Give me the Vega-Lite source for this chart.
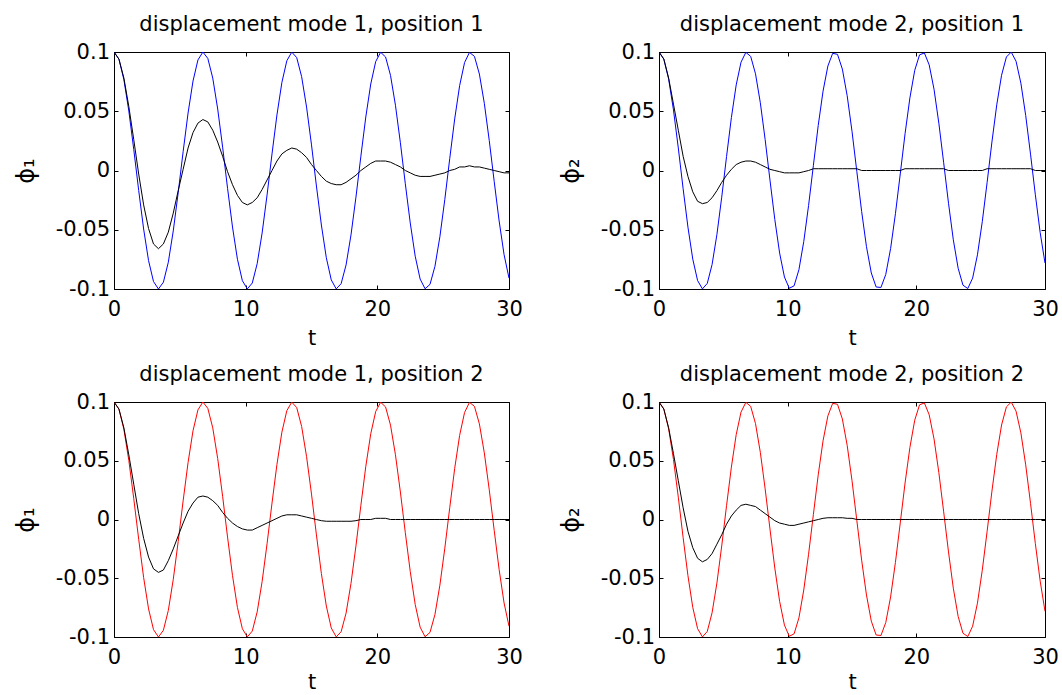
{
  "$schema": "https://vega.github.io/schema/vega-lite/v6.json",
  "padding": {"left": 13, "top": 13, "right": 0, "bottom": 0},
  "background": "white",
  "config": {
    "font": "DejaVu Sans",
    "view": {"stroke": "#000000", "strokeWidth": 1},
    "axis": {"domain": false, "grid": false, "tickSize": -4, "tickColor": "#000000", "tickWidth": 1, "labelColor": "#000000", "labelFont": "DejaVu Sans", "labelFontSize": 21, "titleFont": "DejaVu Sans", "titleFontSize": 21, "titleFontWeight": "normal", "titleColor": "#000000", "labelFlush": false, "labelOverlap": false},
    "axisX": {"labelPadding": 13, "titlePadding": 8},
    "axisY": {"labelPadding": 8.5, "titlePadding": 17, "titleFontSize": 24},
    "title": {"font": "DejaVu Sans", "fontSize": 21, "fontWeight": "normal", "color": "#000000", "offset": 6, "anchor": "middle", "frame": "group"}
  },
  "datasets": {
    "d": [
      {"t":0,"c1":0.1,"c2":0.1,"k11":0.1,"k21":0.1,"k12":0.1,"k22":0.1},
      {"t":0.375,"c1":0.094,"c2":0.0941,"k11":0.094,"k21":0.094,"k12":0.094,"k22":0.094},
      {"t":0.75,"c1":0.0767,"c2":0.0771,"k11":0.078,"k21":0.078,"k12":0.078,"k22":0.078},
      {"t":1.125,"c1":0.0503,"c2":0.0511,"k11":0.054,"k21":0.056,"k12":0.055,"k22":0.056},
      {"t":1.5,"c1":0.0178,"c2":0.019,"k11":0.026,"k21":0.034,"k12":0.03,"k22":0.033},
      {"t":1.875,"c1":-0.0168,"c2":-0.0154,"k11":-0.003,"k21":0.012,"k12":0.005,"k22":0.01},
      {"t":2.25,"c1":-0.0494,"c2":-0.0478,"k11":-0.029,"k21":-0.005,"k12":-0.016,"k22":-0.01},
      {"t":2.625,"c1":-0.0761,"c2":-0.0748,"k11":-0.049,"k21":-0.018,"k12":-0.032,"k22":-0.024},
      {"t":3,"c1":-0.0937,"c2":-0.0929,"k11":-0.062,"k21":-0.026,"k12":-0.042,"k22":-0.033},
      {"t":3.375,"c1":-0.1,"c2":-0.0999,"k11":-0.066,"k21":-0.028,"k12":-0.045,"k22":-0.036},
      {"t":3.75,"c1":-0.0943,"c2":-0.0953,"k11":-0.062,"k21":-0.027,"k12":-0.043,"k22":-0.034},
      {"t":4.125,"c1":-0.0774,"c2":-0.0794,"k11":-0.052,"k21":-0.023,"k12":-0.035,"k22":-0.029},
      {"t":4.5,"c1":-0.051,"c2":-0.0541,"k11":-0.036,"k21":-0.017,"k12":-0.025,"k22":-0.021},
      {"t":4.875,"c1":-0.0187,"c2":-0.0225,"k11":-0.017,"k21":-0.01,"k12":-0.014,"k22":-0.013},
      {"t":5.25,"c1":0.0159,"c2":0.0118,"k11":0.001,"k21":-0.004,"k12":-0.003,"k22":-0.004},
      {"t":5.625,"c1":0.0485,"c2":0.0446,"k11":0.019,"k21":0.001,"k12":0.007,"k22":0.003},
      {"t":6,"c1":0.0755,"c2":0.0722,"k11":0.032,"k21":0.005,"k12":0.014,"k22":0.008},
      {"t":6.375,"c1":0.0933,"c2":0.0914,"k11":0.04,"k21":0.007,"k12":0.019,"k22":0.012},
      {"t":6.75,"c1":0.1,"c2":0.0997,"k11":0.043,"k21":0.008,"k12":0.02,"k22":0.013},
      {"t":7.125,"c1":0.0946,"c2":0.0963,"k11":0.041,"k21":0.008,"k12":0.019,"k22":0.012},
      {"t":7.5,"c1":0.078,"c2":0.0816,"k11":0.034,"k21":0.007,"k12":0.016,"k22":0.011},
      {"t":7.875,"c1":0.0519,"c2":0.0572,"k11":0.024,"k21":0.005,"k12":0.012,"k22":0.008},
      {"t":8.25,"c1":0.0197,"c2":0.0261,"k11":0.012,"k21":0.003,"k12":0.006,"k22":0.005},
      {"t":8.625,"c1":-0.015,"c2":-0.0081,"k11":-0.001,"k21":0.001,"k12":0.001,"k22":0.002},
      {"t":9,"c1":-0.0477,"c2":-0.0413,"k11":-0.012,"k21":0,"k12":-0.003,"k22":-0.001},
      {"t":9.375,"c1":-0.0749,"c2":-0.0697,"k11":-0.021,"k21":-0.001,"k12":-0.006,"k22":-0.003},
      {"t":9.75,"c1":-0.093,"c2":-0.0899,"k11":-0.027,"k21":-0.002,"k12":-0.008,"k22":-0.004},
      {"t":10.125,"c1":-0.0999,"c2":-0.0994,"k11":-0.029,"k21":-0.002,"k12":-0.009,"k22":-0.005},
      {"t":10.5,"c1":-0.095,"c2":-0.0973,"k11":-0.027,"k21":-0.002,"k12":-0.009,"k22":-0.005},
      {"t":10.875,"c1":-0.0786,"c2":-0.0837,"k11":-0.023,"k21":-0.002,"k12":-0.007,"k22":-0.004},
      {"t":11.25,"c1":-0.0527,"c2":-0.06,"k11":-0.016,"k21":-0.001,"k12":-0.005,"k22":-0.003},
      {"t":11.625,"c1":-0.0206,"c2":-0.0296,"k11":-0.008,"k21":0,"k12":-0.003,"k22":-0.002},
      {"t":12,"c1":0.014,"c2":0.0044,"k11":0,"k21":0.0015,"k12":-0.001,"k22":-0.001},
      {"t":12.375,"c1":0.0469,"c2":0.038,"k11":0.008,"k21":0.0015,"k12":0.001,"k22":0},
      {"t":12.75,"c1":0.0743,"c2":0.067,"k11":0.014,"k21":0.0015,"k12":0.003,"k22":0.001},
      {"t":13.125,"c1":0.0926,"c2":0.0882,"k11":0.017,"k21":0.0015,"k12":0.004,"k22":0.0015},
      {"t":13.5,"c1":0.0999,"c2":0.0989,"k11":0.019,"k21":0.0015,"k12":0.004,"k22":0.0015},
      {"t":13.875,"c1":0.0953,"c2":0.098,"k11":0.018,"k21":0.0015,"k12":0.004,"k22":0.0015},
      {"t":14.25,"c1":0.0792,"c2":0.0856,"k11":0.015,"k21":0.0015,"k12":0.003,"k22":0.0015},
      {"t":14.625,"c1":0.0535,"c2":0.0631,"k11":0.011,"k21":0.0015,"k12":0.002,"k22":0.001},
      {"t":15,"c1":0.0216,"c2":0.0331,"k11":0.005,"k21":0.0015,"k12":0.001,"k22":0.001},
      {"t":15.375,"c1":-0.0131,"c2":-0.0008,"k11":0,"k21":0.0015,"k12":0,"k22":0},
      {"t":15.75,"c1":-0.046,"c2":-0.0346,"k11":-0.005,"k21":0,"k12":-0.001,"k22":0},
      {"t":16.125,"c1":-0.0736,"c2":-0.0643,"k11":-0.009,"k21":0,"k12":-0.0015,"k22":0},
      {"t":16.5,"c1":-0.0923,"c2":-0.0865,"k11":-0.011,"k21":0,"k12":-0.0015,"k22":0},
      {"t":16.875,"c1":-0.0999,"c2":-0.0983,"k11":-0.012,"k21":0,"k12":-0.0015,"k22":0},
      {"t":17.25,"c1":-0.0955,"c2":-0.0987,"k11":-0.012,"k21":0,"k12":-0.0015,"k22":0},
      {"t":17.625,"c1":-0.0797,"c2":-0.0877,"k11":-0.01,"k21":0,"k12":-0.0015,"k22":0},
      {"t":18,"c1":-0.0543,"c2":-0.0659,"k11":-0.007,"k21":0,"k12":-0.0015,"k22":0},
      {"t":18.375,"c1":-0.0225,"c2":-0.0365,"k11":-0.004,"k21":0,"k12":-0.001,"k22":0},
      {"t":18.75,"c1":0.0121,"c2":-0.0029,"k11":0,"k21":0,"k12":0,"k22":0},
      {"t":19.125,"c1":0.0452,"c2":0.0311,"k11":0.003,"k21":0.0015,"k12":0,"k22":0},
      {"t":19.5,"c1":0.073,"c2":0.0613,"k11":0.006,"k21":0.0015,"k12":0,"k22":0},
      {"t":19.875,"c1":0.0919,"c2":0.0845,"k11":0.008,"k21":0.0015,"k12":0.001,"k22":0},
      {"t":20.25,"c1":0.0998,"c2":0.0976,"k11":0.008,"k21":0.0015,"k12":0.001,"k22":0},
      {"t":20.625,"c1":0.0958,"c2":0.0992,"k11":0.008,"k21":0.0015,"k12":0.001,"k22":0},
      {"t":21,"c1":0.0803,"c2":0.0891,"k11":0.007,"k21":0.0015,"k12":0,"k22":0},
      {"t":21.375,"c1":0.0551,"c2":0.0686,"k11":0.005,"k21":0.0015,"k12":0,"k22":0},
      {"t":21.75,"c1":0.0234,"c2":0.0399,"k11":0.003,"k21":0.0015,"k12":0,"k22":0},
      {"t":22.125,"c1":-0.0112,"c2":0.0065,"k11":0,"k21":0.0015,"k12":0,"k22":0},
      {"t":22.5,"c1":-0.0443,"c2":-0.0276,"k11":-0.002,"k21":0,"k12":0,"k22":0},
      {"t":22.875,"c1":-0.0723,"c2":-0.0585,"k11":-0.004,"k21":0,"k12":0,"k22":0},
      {"t":23.25,"c1":-0.0916,"c2":-0.0825,"k11":-0.005,"k21":0,"k12":0,"k22":0},
      {"t":23.625,"c1":-0.0998,"c2":-0.0968,"k11":-0.005,"k21":0,"k12":0,"k22":0},
      {"t":24,"c1":-0.0961,"c2":-0.0996,"k11":-0.005,"k21":0,"k12":0,"k22":0},
      {"t":24.375,"c1":-0.0809,"c2":-0.0908,"k11":-0.004,"k21":0,"k12":0,"k22":0},
      {"t":24.75,"c1":-0.0559,"c2":-0.0712,"k11":-0.003,"k21":0,"k12":0,"k22":0},
      {"t":25.125,"c1":-0.0244,"c2":-0.0432,"k11":-0.002,"k21":0,"k12":0,"k22":0},
      {"t":25.5,"c1":0.0102,"c2":-0.0102,"k11":0,"k21":0.0015,"k12":0,"k22":0},
      {"t":25.875,"c1":0.0435,"c2":0.0241,"k11":0.001,"k21":0.0015,"k12":0,"k22":0},
      {"t":26.25,"c1":0.0716,"c2":0.0554,"k11":0.003,"k21":0.0015,"k12":0,"k22":0},
      {"t":26.625,"c1":0.0911,"c2":0.0804,"k11":0.003,"k21":0.0015,"k12":0,"k22":0},
      {"t":27,"c1":0.0997,"c2":0.0958,"k11":0.004,"k21":0.0015,"k12":0,"k22":0},
      {"t":27.375,"c1":0.0963,"c2":0.0999,"k11":0.003,"k21":0.0015,"k12":0,"k22":0},
      {"t":27.75,"c1":0.0814,"c2":0.0922,"k11":0.003,"k21":0.0015,"k12":0,"k22":0},
      {"t":28.125,"c1":0.0567,"c2":0.0737,"k11":0.002,"k21":0.0015,"k12":0,"k22":0},
      {"t":28.5,"c1":0.0253,"c2":0.0465,"k11":0.001,"k21":0.0015,"k12":0,"k22":0},
      {"t":28.875,"c1":-0.0092,"c2":0.0138,"k11":0,"k21":0.0015,"k12":0,"k22":0},
      {"t":29.25,"c1":-0.0426,"c2":-0.0205,"k11":-0.001,"k21":0,"k12":0,"k22":0},
      {"t":29.625,"c1":-0.071,"c2":-0.0524,"k11":-0.002,"k21":0,"k12":0,"k22":0},
      {"t":30,"c1":-0.0908,"c2":-0.0781,"k11":-0.002,"k21":0,"k12":0,"k22":0}
    ]
  },
  "columns": 2,
  "spacing": {"row": 113, "column": 150},
  "bounds": "flush",
  "concat": [
    {
      "data": {"name": "d"},
      "width": 395, "height": 237,
      "title": {"text": "displacement mode 1, position 1"},
      "layer": [
        {"mark": {"type": "line", "color": "#0000ff", "strokeWidth": 1, "clip": true},
         "encoding": {
           "x": {"field": "t", "type": "quantitative", "scale": {"domain": [0, 30], "nice": false, "zero": false}, "axis": {"orient": "bottom", "title": "t", "values": [0, 10, 20, 30]}},
           "y": {"field": "c1", "type": "quantitative", "scale": {"domain": [-0.1, 0.1], "nice": false, "zero": false}, "axis": {"orient": "left", "title": "ϕ₁", "values": [-0.1, -0.05, 0, 0.05, 0.1], "labelExpr": "datum.value < 0 ? '-' + format(-datum.value, '~g') : format(datum.value, '~g')"}}
         }},
        {"mark": {"type": "line", "color": "#000000", "strokeWidth": 1, "clip": true},
         "encoding": {
           "x": {"field": "t", "type": "quantitative", "scale": {"domain": [0, 30], "nice": false, "zero": false}, "axis": {"orient": "top", "labels": false, "title": null, "values": [0, 10, 20, 30]}},
           "y": {"field": "k11", "type": "quantitative", "scale": {"domain": [-0.1, 0.1], "nice": false, "zero": false}, "axis": {"orient": "right", "labels": false, "title": null, "values": [-0.1, -0.05, 0, 0.05, 0.1]}}
         }}
      ],
      "resolve": {"axis": {"x": "independent", "y": "independent"}}
    },
    {
      "data": {"name": "d"},
      "width": 386, "height": 237,
      "title": {"text": "displacement mode 2, position 1"},
      "layer": [
        {"mark": {"type": "line", "color": "#0000ff", "strokeWidth": 1, "clip": true},
         "encoding": {
           "x": {"field": "t", "type": "quantitative", "scale": {"domain": [0, 30], "nice": false, "zero": false}, "axis": {"orient": "bottom", "title": "t", "values": [0, 10, 20, 30]}},
           "y": {"field": "c2", "type": "quantitative", "scale": {"domain": [-0.1, 0.1], "nice": false, "zero": false}, "axis": {"orient": "left", "title": "ϕ₂", "values": [-0.1, -0.05, 0, 0.05, 0.1], "labelExpr": "datum.value < 0 ? '-' + format(-datum.value, '~g') : format(datum.value, '~g')"}}
         }},
        {"mark": {"type": "line", "color": "#000000", "strokeWidth": 1, "clip": true},
         "encoding": {
           "x": {"field": "t", "type": "quantitative", "scale": {"domain": [0, 30], "nice": false, "zero": false}, "axis": {"orient": "top", "labels": false, "title": null, "values": [0, 10, 20, 30]}},
           "y": {"field": "k21", "type": "quantitative", "scale": {"domain": [-0.1, 0.1], "nice": false, "zero": false}, "axis": {"orient": "right", "labels": false, "title": null, "values": [-0.1, -0.05, 0, 0.05, 0.1]}}
         }}
      ],
      "resolve": {"axis": {"x": "independent", "y": "independent"}}
    },
    {
      "data": {"name": "d"},
      "width": 395, "height": 235,
      "title": {"text": "displacement mode 1, position 2"},
      "layer": [
        {"mark": {"type": "line", "color": "#ff0000", "strokeWidth": 1, "clip": true},
         "encoding": {
           "x": {"field": "t", "type": "quantitative", "scale": {"domain": [0, 30], "nice": false, "zero": false}, "axis": {"orient": "bottom", "title": "t", "titlePadding": 4, "values": [0, 10, 20, 30]}},
           "y": {"field": "c1", "type": "quantitative", "scale": {"domain": [-0.1, 0.1], "nice": false, "zero": false}, "axis": {"orient": "left", "title": "ϕ₁", "values": [-0.1, -0.05, 0, 0.05, 0.1], "labelExpr": "datum.value < 0 ? '-' + format(-datum.value, '~g') : format(datum.value, '~g')"}}
         }},
        {"mark": {"type": "line", "color": "#000000", "strokeWidth": 1, "clip": true},
         "encoding": {
           "x": {"field": "t", "type": "quantitative", "scale": {"domain": [0, 30], "nice": false, "zero": false}, "axis": {"orient": "top", "labels": false, "title": null, "values": [0, 10, 20, 30]}},
           "y": {"field": "k12", "type": "quantitative", "scale": {"domain": [-0.1, 0.1], "nice": false, "zero": false}, "axis": {"orient": "right", "labels": false, "title": null, "values": [-0.1, -0.05, 0, 0.05, 0.1]}}
         }}
      ],
      "resolve": {"axis": {"x": "independent", "y": "independent"}}
    },
    {
      "data": {"name": "d"},
      "width": 386, "height": 235,
      "title": {"text": "displacement mode 2, position 2"},
      "layer": [
        {"mark": {"type": "line", "color": "#ff0000", "strokeWidth": 1, "clip": true},
         "encoding": {
           "x": {"field": "t", "type": "quantitative", "scale": {"domain": [0, 30], "nice": false, "zero": false}, "axis": {"orient": "bottom", "title": "t", "titlePadding": 4, "values": [0, 10, 20, 30]}},
           "y": {"field": "c2", "type": "quantitative", "scale": {"domain": [-0.1, 0.1], "nice": false, "zero": false}, "axis": {"orient": "left", "title": "ϕ₂", "values": [-0.1, -0.05, 0, 0.05, 0.1], "labelExpr": "datum.value < 0 ? '-' + format(-datum.value, '~g') : format(datum.value, '~g')"}}
         }},
        {"mark": {"type": "line", "color": "#000000", "strokeWidth": 1, "clip": true},
         "encoding": {
           "x": {"field": "t", "type": "quantitative", "scale": {"domain": [0, 30], "nice": false, "zero": false}, "axis": {"orient": "top", "labels": false, "title": null, "values": [0, 10, 20, 30]}},
           "y": {"field": "k22", "type": "quantitative", "scale": {"domain": [-0.1, 0.1], "nice": false, "zero": false}, "axis": {"orient": "right", "labels": false, "title": null, "values": [-0.1, -0.05, 0, 0.05, 0.1]}}
         }}
      ],
      "resolve": {"axis": {"x": "independent", "y": "independent"}}
    }
  ]
}
